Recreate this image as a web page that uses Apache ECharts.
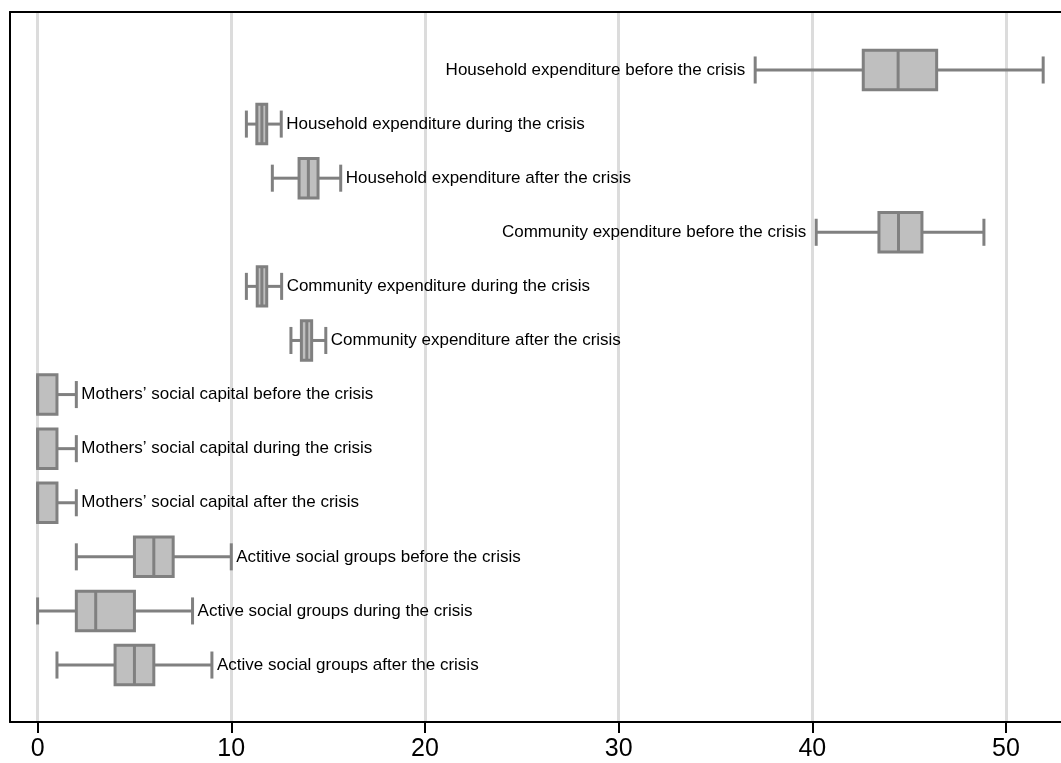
<!DOCTYPE html>
<html>
<head>
<meta charset="utf-8">
<script src="https://cdn.jsdelivr.net/npm/echarts@6/dist/echarts.min.js"></script>
<style>html,body{margin:0;padding:0;background:#fff}#c{width:1061px;height:763px}</style>
</head>
<body>
<div id="c"></div>
<script>
var categories = [
  "Household expenditure before the crisis",
  "Household expenditure during the crisis",
  "Household expenditure after the crisis",
  "Community expenditure before the crisis",
  "Community expenditure during the crisis",
  "Community expenditure after the crisis",
  "Mothers\u2019 social capital before the crisis",
  "Mothers\u2019 social capital during the crisis",
  "Mothers\u2019 social capital after the crisis",
  "Actitive social groups before the crisis",
  "Active social groups during the crisis",
  "Active social groups after the crisis"
];
var mins    = [37.05, 10.78, 12.12, 40.2, 10.78, 13.08, 0, 0, 0, 2, 0, 1];
var q1s     = [42.63, 11.32, 13.5, 43.44, 11.34, 13.62, 0, 0, 0, 5, 2, 4];
var medians = [44.43, 11.58, 13.98, 44.45, 11.58, 13.9, 0, 0, 0, 6, 3, 5];
var q3s     = [46.42, 11.83, 14.48, 45.66, 11.83, 14.15, 1, 1, 1, 7, 5, 6];
var maxs    = [51.92, 12.58, 15.65, 48.86, 12.6, 14.88, 2, 2, 2, 10, 8, 9];
var xTicks  = [0, 10, 20, 30, 40, 50];

var rows = categories.map(function (c, i) {
  return [i, mins[i], q1s[i], medians[i], q3s[i], maxs[i]];
});

var chart = echarts.init(document.getElementById('c'), null, {renderer: 'canvas'});
var stroke = '#808080';
var fill = '#bfbfbf';
var X_MIN = -1.425, X_MAX = 52.84;

chart.setOption({
  animation: false,
  grid: {left: 10, right: 0, top: 12, bottom: 41, show: false},
  xAxis: [{
    type: 'value', position: 'bottom',
    min: X_MIN, max: X_MAX,
    axisLine: {show: true, onZero: false, lineStyle: {color: '#000', width: 2}},
    axisTick: {show: true, length: 11, lineStyle: {color: '#000', width: 2}, customValues: xTicks},
    axisLabel: {customValues: xTicks, color: '#000', fontSize: 25, fontFamily: 'Liberation Sans, Arial, sans-serif', margin: 15},
    splitLine: {show: true, lineStyle: {color: '#dcdcdc', width: 3}}
  }, {
    type: 'value', position: 'top',
    min: X_MIN, max: X_MAX,
    axisLine: {show: true, onZero: false, lineStyle: {color: '#000', width: 2}},
    axisTick: {show: false}, axisLabel: {show: false}, splitLine: {show: false}
  }],
  yAxis: {
    type: 'value', inverse: true, min: -1.072, max: 12.053,
    axisLine: {show: true, onZero: false, lineStyle: {color: '#000', width: 2}},
    axisTick: {show: false}, axisLabel: {show: false}, splitLine: {show: false}
  },
  series: [{
    type: 'custom',
    data: rows,
    encode: {x: [1, 2, 3, 4, 5], y: 0},
    z: 5,
    renderItem: function (params, api) {
      var r = api.value(0);
      var vmin = api.value(1), vq1 = api.value(2), vmed = api.value(3), vq3 = api.value(4), vmax = api.value(5);
      var unit = api.size([0, 1])[1];
      var bh = unit * 0.73;
      var ch = unit * 0.5;
      var pMin = api.coord([vmin, r]);
      var pQ1 = api.coord([vq1, r]);
      var pMed = api.coord([vmed, r]);
      var pQ3 = api.coord([vq3, r]);
      var pMax = api.coord([vmax, r]);
      var cy = pMin[1];
      var ls = {stroke: stroke, lineWidth: 3};
      var label = categories[params.dataIndex];
      var leftLabel = vmax > 30;
      var children = [
        {type: 'line', shape: {x1: pMin[0], y1: cy, x2: pQ1[0], y2: cy}, style: ls},
        {type: 'line', shape: {x1: pQ3[0], y1: cy, x2: pMax[0], y2: cy}, style: ls},
        {type: 'line', shape: {x1: pMin[0], y1: cy - ch / 2, x2: pMin[0], y2: cy + ch / 2}, style: ls},
        {type: 'line', shape: {x1: pMax[0], y1: cy - ch / 2, x2: pMax[0], y2: cy + ch / 2}, style: ls},
        {type: 'rect', shape: {x: pQ1[0], y: cy - bh / 2, width: pQ3[0] - pQ1[0], height: bh}, style: {fill: fill, stroke: stroke, lineWidth: 3}},
        {type: 'line', shape: {x1: pMed[0], y1: cy - bh / 2, x2: pMed[0], y2: cy + bh / 2}, style: ls},
        {type: 'text', style: {
          text: label,
          x: leftLabel ? pMin[0] - 10 : pMax[0] + 5,
          y: cy,
          align: leftLabel ? 'right' : 'left',
          verticalAlign: 'middle',
          font: '17px "Liberation Sans", Arial, sans-serif',
          fill: '#000'
        }}
      ];
      return {type: 'group', children: children};
    }
  }]
});
</script>
</body>
</html>
